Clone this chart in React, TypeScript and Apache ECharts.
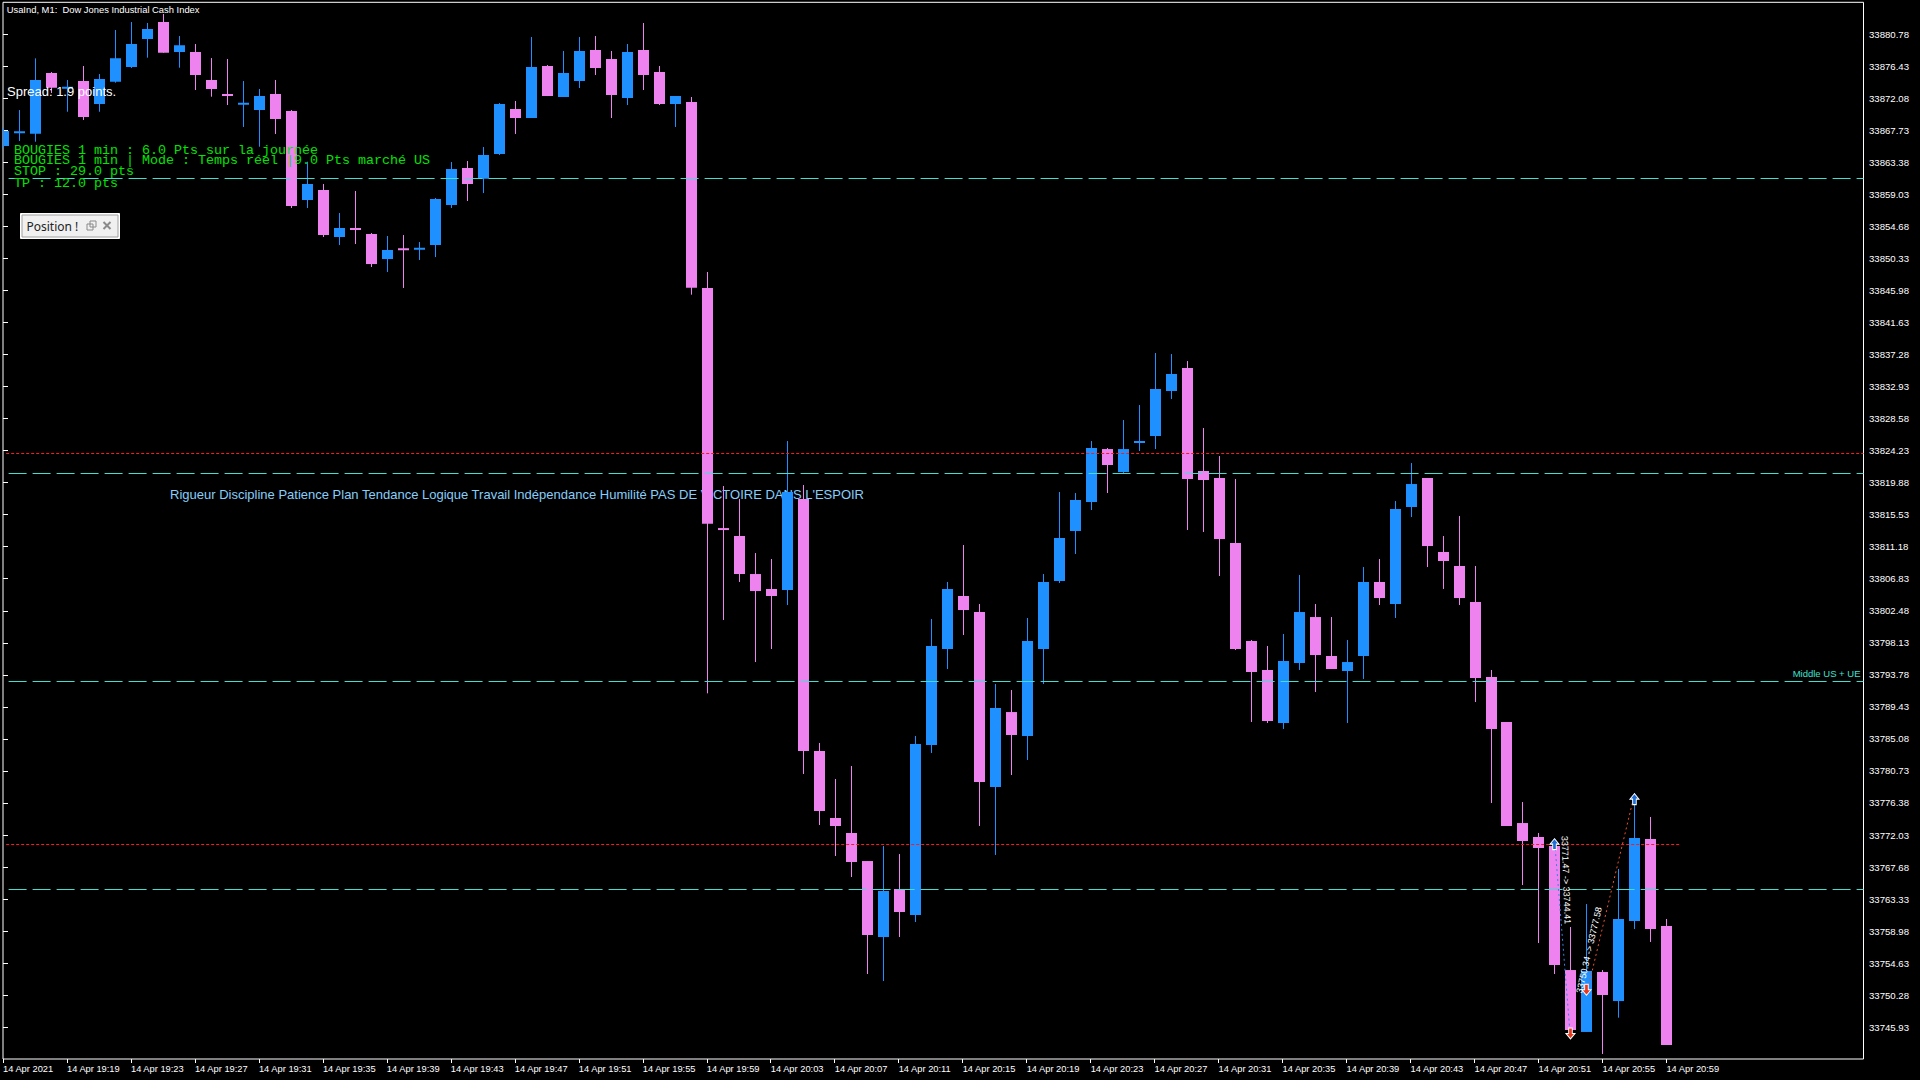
import React, { useEffect, useRef } from "react";
import * as echarts from "echarts";

// ---------- DATA ----------
const BULL = "#1E90FF";
const BEAR = "#EE82EE";

// One candle per minute, 19:15 -> 20:59 (index 0 = 19:15)
const OPEN = [
  33865.59, 33867.35, 33867.26, 33875.5, 33873.4, 33874.41, 33871.29, 33874.32, 33876.31, 33880.11,
  33882.42, 33878.35, 33878.35, 33874.55, 33872.6, 33871.25, 33870.47, 33872.65, 33870.34, 33858.25,
  33859.61, 33853.23, 33854.4, 33853.64, 33850.24, 33851.65, 33851.55, 33852.14, 33857.58, 33862.6,
  33861.15, 33864.5, 33870.61, 33869.39, 33876.45, 33872.24, 33874.41, 33878.62, 33877.4, 33872.1,
  33878.62, 33875.63, 33871.29, 33871.56, 33846.3, 33813.65, 33812.63, 33807.47, 33805.44, 33805.3,
  33817.66, 33783.44, 33774.34, 33772.31, 33768.5, 33758.18, 33764.7, 33761.17, 33784.25, 33797.29,
  33804.49, 33802.31, 33778.55, 33788.73, 33785.48, 33797.29, 33806.52, 33813.31, 33817.25, 33824.44,
  33821.32, 33825.27, 33826.21, 33832.32, 33835.44, 33821.46, 33820.51, 33811.68, 33798.38, 33794.44,
  33787.24, 33795.39, 33801.63, 33796.34, 33794.3, 33796.34, 33806.39, 33803.4, 33816.57, 33820.51,
  33810.46, 33808.56, 33803.67, 33793.49, 33787.38, 33773.66, 33771.76, 33770.54, 33753.7, 33745.29,
  33753.43, 33749.49, 33760.36, 33771.49, 33759.68,
];
const HIGH = [
  33868.03, 33870.47, 33877.49, 33875.63, 33874.55, 33876.45, 33875.36, 33881.34, 33882.42, 33882.29,
  33883.51, 33880.52, 33879.44, 33877.53, 33877.4, 33874.41, 33873.33, 33874.55, 33870.47, 33863.45,
  33860.43, 33856.49, 33859.48, 33853.77, 33853.37, 33853.5, 33852.55, 33858.53, 33863.41, 33863.55,
  33865.45, 33871.42, 33871.7, 33880.39, 33876.58, 33878.49, 33880.39, 33880.52, 33878.49, 33879.44,
  33882.29, 33876.45, 33872.37, 33872.24, 33848.48, 33819.42, 33817.66, 33810.32, 33809.51, 33825.53,
  33819.56, 33784.53, 33779.64, 33781.4, 33768.5, 33770.54, 33769.45, 33785.48, 33801.36, 33806.39,
  33811.41, 33803.4, 33792.54, 33791.72, 33801.5, 33807.47, 33818.61, 33818.47, 33825.53, 33824.58,
  33828.38, 33830.42, 33837.48, 33837.34, 33836.39, 33827.3, 33823.49, 33820.37, 33798.51, 33797.7,
  33799.33, 33807.34, 33803.4, 33801.63, 33798.51, 33808.42, 33809.51, 33817.38, 33822.54, 33820.51,
  33812.63, 33815.35, 33808.56, 33794.44, 33787.38, 33776.51, 33772.31, 33771.49, 33759.54, 33762.66,
  33753.7, 33767.42, 33777.74, 33774.48, 33760.63,
];
const LOW = [
  33865.31, 33866.27, 33866.17, 33872.78, 33870.24, 33869.12, 33870.24, 33874.18, 33876.18, 33877.58,
  33878.25, 33876.22, 33873.19, 33872.28, 33871.15, 33868.17, 33865.49, 33867.22, 33857.17, 33857.17,
  33853.23, 33852.14, 33852.28, 33849.16, 33848.48, 33846.31, 33850.11, 33850.51, 33857.17, 33858.12,
  33859.2, 33864.36, 33867.22, 33869.39, 33872.37, 33872.24, 33873.46, 33875.23, 33869.39, 33871.15,
  33873.19, 33871.15, 33868.17, 33845.4, 33791.27, 33801.23, 33806.39, 33795.52, 33797.29, 33803.26,
  33780.32, 33773.39, 33769.18, 33766.33, 33753.16, 33752.21, 33758.18, 33760.22, 33783.17, 33794.57,
  33799.19, 33773.26, 33769.32, 33780.18, 33782.22, 33792.54, 33806.25, 33810.19, 33816.16, 33818.47,
  33821.19, 33824.17, 33824.44, 33831.23, 33813.45, 33813.18, 33807.2, 33797.15, 33787.38, 33787.24,
  33786.43, 33794.44, 33791.45, 33794.57, 33787.24, 33793.22, 33803.26, 33801.5, 33815.21, 33808.42,
  33805.44, 33803.26, 33790.09, 33776.38, 33773.26, 33765.24, 33757.37, 33753.16, 33744.47, 33745.29,
  33742.3, 33747.23, 33759.27, 33757.51, 33743.52,
];
const CLOSE = [
  33867.62, 33867.55, 33874.55, 33873.5, 33873.6, 33869.52, 33874.68, 33877.49, 33879.44, 33881.47,
  33878.25, 33879.26, 33875.23, 33873.33, 33872.45, 33871.4, 33872.37, 33869.25, 33857.44, 33860.43,
  33853.5, 33854.45, 33854.25, 33849.56, 33851.46, 33851.5, 33851.7, 33858.39, 33862.46, 33860.43,
  33864.36, 33871.29, 33869.39, 33876.31, 33872.37, 33875.5, 33878.49, 33876.18, 33872.51, 33878.35,
  33875.23, 33871.29, 33872.37, 33846.35, 33814.3, 33813.5, 33807.47, 33805.16, 33804.49, 33818.61,
  33783.44, 33775.29, 33773.26, 33768.37, 33758.46, 33764.43, 33761.58, 33784.39, 33797.7, 33805.44,
  33802.58, 33779.23, 33789.28, 33785.61, 33798.38, 33806.39, 33812.36, 33817.52, 33824.58, 33822.27,
  33824.44, 33825.53, 33832.59, 33834.63, 33820.37, 33820.24, 33812.22, 33797.29, 33794.17, 33787.51,
  33795.66, 33802.31, 33796.47, 33794.57, 33795.52, 33806.39, 33804.21, 33816.3, 33819.69, 33811.27,
  33809.24, 33804.21, 33793.35, 33786.43, 33773.26, 33771.22, 33770.27, 33754.38, 33745.56, 33753.57,
  33750.31, 33760.63, 33771.63, 33759.27, 33743.52,
];

const X_TICK_LABELS = [
  "14 Apr 2021", "14 Apr 19:19", "14 Apr 19:23", "14 Apr 19:27", "14 Apr 19:31", "14 Apr 19:35",
  "14 Apr 19:39", "14 Apr 19:43", "14 Apr 19:47", "14 Apr 19:51", "14 Apr 19:55", "14 Apr 19:59",
  "14 Apr 20:03", "14 Apr 20:07", "14 Apr 20:11", "14 Apr 20:15", "14 Apr 20:19", "14 Apr 20:23",
  "14 Apr 20:27", "14 Apr 20:31", "14 Apr 20:35", "14 Apr 20:39", "14 Apr 20:43", "14 Apr 20:47",
  "14 Apr 20:51", "14 Apr 20:55", "14 Apr 20:59",
];
const X_TICK_STEP = 4; // minutes between time labels

const Y_TICKS = [
  33880.78, 33876.43, 33872.08, 33867.73, 33863.38, 33859.03, 33854.68, 33850.33, 33845.98, 33841.63,
  33837.28, 33832.93, 33828.58, 33824.23, 33819.88, 33815.53, 33811.18, 33806.83, 33802.48, 33798.13,
  33793.78, 33789.43, 33785.08, 33780.73, 33776.38, 33772.03, 33767.68, 33763.33, 33758.98, 33754.63,
  33750.28, 33745.93,
];

const X_MIN = 0;
const X_MAX = 116.32;
const Y_MIN = 33741.62;
const Y_MAX = 33885.1;

// Horizontal levels
const LEVEL_PRICES = [33861.24, 33823.86, 33821.15, 33792.97, 33770.77, 33764.66];
const LEVEL_KINDS = ["cyan", "red", "cyan", "cyan", "red", "cyan"];
const LEVEL_STARTS = [0.35, 0.2, 0.35, 0.35, 0.2, 0.35];
const LEVEL_ENDS = [X_MAX, X_MAX, X_MAX, X_MAX, 104.85, X_MAX];
const LEVEL_LABELS = ["", "", "", "Middle US + UE", "", ""];

// Trades
const TRADE_FROM = [[97, 33771.47], [99, 33750.34]];
const TRADE_TO = [[98, 33744.41], [102, 33777.58]];
const TRADE_TEXT = ["33771.47 -> 33744.41", "33750.34 -> 33777.58"];
const TRADE_LINE_COLOR = ["#2F86E8", "#F0502A"];
const TRADE_LABEL_AT = [[97.63, 33771.9], [98.54, 33750.58]];
const TRADE_LABEL_ANGLE = [-88, 77];
const BUY_ARROWS = [[97, 33771.47], [102, 33777.58]];
const SELL_ARROWS = [[98, 33744.41], [99, 33750.34]];

const INFO_LINES = [
  "BOUGIES 1 min : 6.0 Pts sur la journée",
  "BOUGIES 1 min | Mode : Temps réel |9.0 Pts marché US",
  "STOP : 29.0 pts",
  "TP : 12.0 pts",
];
const MOTTO =
  "Rigueur Discipline Patience Plan Tendance Logique Travail Indépendance Humilité PAS DE VICTOIRE DANS L'ESPOIR";

const FONT = "'Liberation Sans', Arial, sans-serif";
const UP_ARROW = "path://M5,0 L10,6 L7,6 L7,12 L3,12 L3,6 L0,6 Z";
const DOWN_ARROW = "path://M3,0 L7,0 L7,6 L10,6 L5,12 L0,6 L3,6 Z";

function renderCandle(params: any, api: any) {
  const i = api.value(0);
  const o = api.value(1);
  const c = api.value(2);
  const l = api.value(3);
  const h = api.value(4);
  const po = api.coord([i, o]);
  const pc = api.coord([i, c]);
  const pl = api.coord([i, l]);
  const ph = api.coord([i, h]);
  const color = c >= o ? BULL : BEAR;
  const cx = Math.round(po[0]);
  let top = Math.min(po[1], pc[1]);
  let bottom = Math.max(po[1], pc[1]);
  if (bottom - top < 2) {
    const m = (top + bottom) / 2;
    top = m - 1;
    bottom = m + 1;
  }
  return {
    type: "group",
    children: [
      {
        type: "line",
        shape: { x1: cx + 0.5, y1: ph[1], x2: cx + 0.5, y2: pl[1] },
        style: { stroke: color, lineWidth: 1 },
      },
      {
        type: "rect",
        shape: { x: cx - 5, y: top, width: 11, height: bottom - top },
        style: { fill: color },
      },
    ],
  };
}

export default function App() {
  const ref = useRef<HTMLDivElement>(null);

  useEffect(() => {
    document.body.style.margin = "0";
    document.body.style.background = "#000";
    const chart = echarts.init(ref.current!, null, { renderer: "svg" });

    const candleData = OPEN.map((o, i) => [i, o, CLOSE[i], LOW[i], HIGH[i]]);

    const markLineData = LEVEL_PRICES.map((p, k) => {
      const red = LEVEL_KINDS[k] === "red";
      const style = red
        ? { color: "#FF1A1A", width: 1, type: [3, 2] }
        : { color: "#40E0D0", width: 1, type: [18, 6] };
      const label = LEVEL_LABELS[k]
        ? {
            show: true,
            formatter: LEVEL_LABELS[k],
            position: "insideEndTop",
            color: "#40E0D0",
            fontSize: 9.5,
            fontFamily: FONT,
            distance: [3, 2],
          }
        : { show: false };
      return [
        { coord: [LEVEL_STARTS[k], p], lineStyle: style, label },
        { coord: [LEVEL_ENDS[k], p] },
      ];
    });

    const tradeSeries = TRADE_FROM.map((f, k) => ({
      type: "line",
      data: [f, TRADE_TO[k]],
      showSymbol: false,
      symbol: "none",
      silent: true,
      z: 6,
      lineStyle: { color: TRADE_LINE_COLOR[k], width: 1, type: [2, 3] },
    }));

    chart.setOption({
      animation: false,
      backgroundColor: "#000",
      grid: {
        left: 2.4,
        right: 56.5,
        top: 2.3,
        bottom: 21,
        show: true,
        borderColor: "#FFFFFF",
        borderWidth: 1,
        backgroundColor: "transparent",
      },
      xAxis: {
        type: "value",
        min: X_MIN,
        max: X_MAX,
        splitLine: { show: false },
        axisLine: { show: false },
        axisTick: {
          show: true,
          length: 4,
          lineStyle: { color: "#FFFFFF" },
          customValues: X_TICK_LABELS.map((_, k) => k * X_TICK_STEP),
        },
        axisLabel: {
          show: true,
          customValues: X_TICK_LABELS.map((_, k) => k * X_TICK_STEP),
          formatter: (v: number) => X_TICK_LABELS[Math.round(v / X_TICK_STEP)] ?? "",
          align: "left",
          margin: 5,
          color: "#FFFFFF",
          fontSize: 9.3,
          fontFamily: FONT,
        },
      },
      yAxis: {
        type: "value",
        position: "right",
        min: Y_MIN,
        max: Y_MAX,
        splitLine: { show: false },
        axisLine: { show: false },
        axisTick: {
          show: true,
          length: 5,
          lineStyle: { color: "#FFFFFF" },
          customValues: Y_TICKS,
        },
        axisLabel: {
          show: true,
          customValues: Y_TICKS,
          formatter: (v: number) => v.toFixed(2),
          margin: 5.5,
          color: "#FFFFFF",
          fontSize: 9.6,
          fontFamily: FONT,
        },
      },
      series: [
        {
          type: "custom",
          name: "UsaInd",
          renderItem: renderCandle,
          data: candleData,
          encode: { x: 0, y: [1, 2, 3, 4] },
          clip: true,
          z: 2,
          silent: true,
          markLine: {
            silent: true,
            symbol: ["none", "none"],
            animation: false,
            z: 5,
            data: markLineData,
          },
        },
        ...tradeSeries,
        {
          type: "scatter",
          data: BUY_ARROWS,
          symbol: UP_ARROW,
          symbolSize: [9, 11],
          symbolOffset: [0, 5],
          z: 8,
          silent: true,
          itemStyle: { color: "#1C6ED6", borderColor: "#FFFFFF", borderWidth: 1, opacity: 1 },
        },
        {
          type: "scatter",
          data: SELL_ARROWS,
          symbol: DOWN_ARROW,
          symbolSize: [9, 11],
          symbolOffset: [0, -5],
          z: 8,
          silent: true,
          itemStyle: { color: "#E8391E", borderColor: "#FFFFFF", borderWidth: 1, opacity: 1 },
        },
      ],
    });

    const tradeLabels = TRADE_LABEL_AT.map((at, k) => {
      const p = chart.convertToPixel({ gridIndex: 0 }, at) as number[];
      return {
        type: "text",
        x: p[0],
        y: p[1],
        rotation: (TRADE_LABEL_ANGLE[k] * Math.PI) / 180,
        z: 120,
        silent: true,
        style: {
          text: TRADE_TEXT[k],
          fill: "#FFFFFF",
          font: `9px ${FONT}`,
          align: "left",
          verticalAlign: "middle",
        },
      };
    });

    const infoTexts = INFO_LINES.map((t, k) => ({
      type: "text",
      x: 14,
      y: [150, 160.5, 171.7, 183.5][k],
      z: 110,
      silent: true,
      style: {
        text: t,
        fill: "#00E600",
        font: "13.33px 'Liberation Mono', 'Courier New', monospace",
        align: "left",
        verticalAlign: "middle",
      },
    }));

    chart.setOption({
      graphic: [
        {
          type: "text",
          x: 170,
          y: 494,
          z: 0,
          silent: true,
          style: {
            text: MOTTO,
            fill: "#87CEFA",
            font: `13px ${FONT}`,
            align: "left",
            verticalAlign: "middle",
          },
        },
        {
          type: "text",
          x: 6.7,
          y: 9.5,
          z: 110,
          silent: true,
          style: {
            text: "UsaInd, M1:  Dow Jones Industrial Cash Index",
            fill: "#FFFFFF",
            font: `9.4px ${FONT}`,
            align: "left",
            verticalAlign: "middle",
          },
        },
        {
          type: "text",
          x: 7,
          y: 91,
          z: 110,
          silent: true,
          style: {
            text: "Spread: 1.9 points.",
            fill: "#FFFFFF",
            font: `13px ${FONT}`,
            align: "left",
            verticalAlign: "middle",
          },
        },
        ...infoTexts,
        {
          type: "group",
          x: 20.5,
          y: 213.5,
          z: 110,
          silent: true,
          children: [
            {
              type: "rect",
              z: 110,
              shape: { x: 0, y: 0, width: 99, height: 25 },
              style: { fill: "#FFFFFF", stroke: "#FFFFFF", lineWidth: 1 },
            },
            {
              type: "rect",
              z: 111,
              shape: { x: 1.5, y: 1.5, width: 96, height: 22 },
              style: { fill: "#F0F0F0", stroke: "#A0A0A0", lineWidth: 1 },
            },
            {
              type: "text",
              z: 112,
              x: 6,
              y: 12.5,
              style: {
                text: "Position !",
                fill: "#222222",
                font: `12px 'Noto Sans', ${FONT}`,
                align: "left",
                verticalAlign: "middle",
              },
            },
            {
              type: "rect",
              z: 112,
              shape: { x: 66.5, y: 10.5, width: 6, height: 6 },
              style: { fill: "none", stroke: "#8A8A8A", lineWidth: 1 },
            },
            {
              type: "rect",
              z: 112,
              shape: { x: 69.5, y: 7.5, width: 6, height: 6 },
              style: { fill: "none", stroke: "#8A8A8A", lineWidth: 1 },
            },
            {
              type: "line",
              z: 112,
              shape: { x1: 83, y1: 8.5, x2: 90, y2: 15.5 },
              style: { stroke: "#8A8A8A", lineWidth: 2 },
            },
            {
              type: "line",
              z: 112,
              shape: { x1: 90, y1: 8.5, x2: 83, y2: 15.5 },
              style: { stroke: "#8A8A8A", lineWidth: 2 },
            },
          ],
        },
        ...tradeLabels,
      ],
    });

    return () => chart.dispose();
  }, []);

  return (
    <div
      ref={ref}
      style={{ position: "fixed", left: 0, top: 0, width: 1920, height: 1080, background: "#000" }}
    />
  );
}
